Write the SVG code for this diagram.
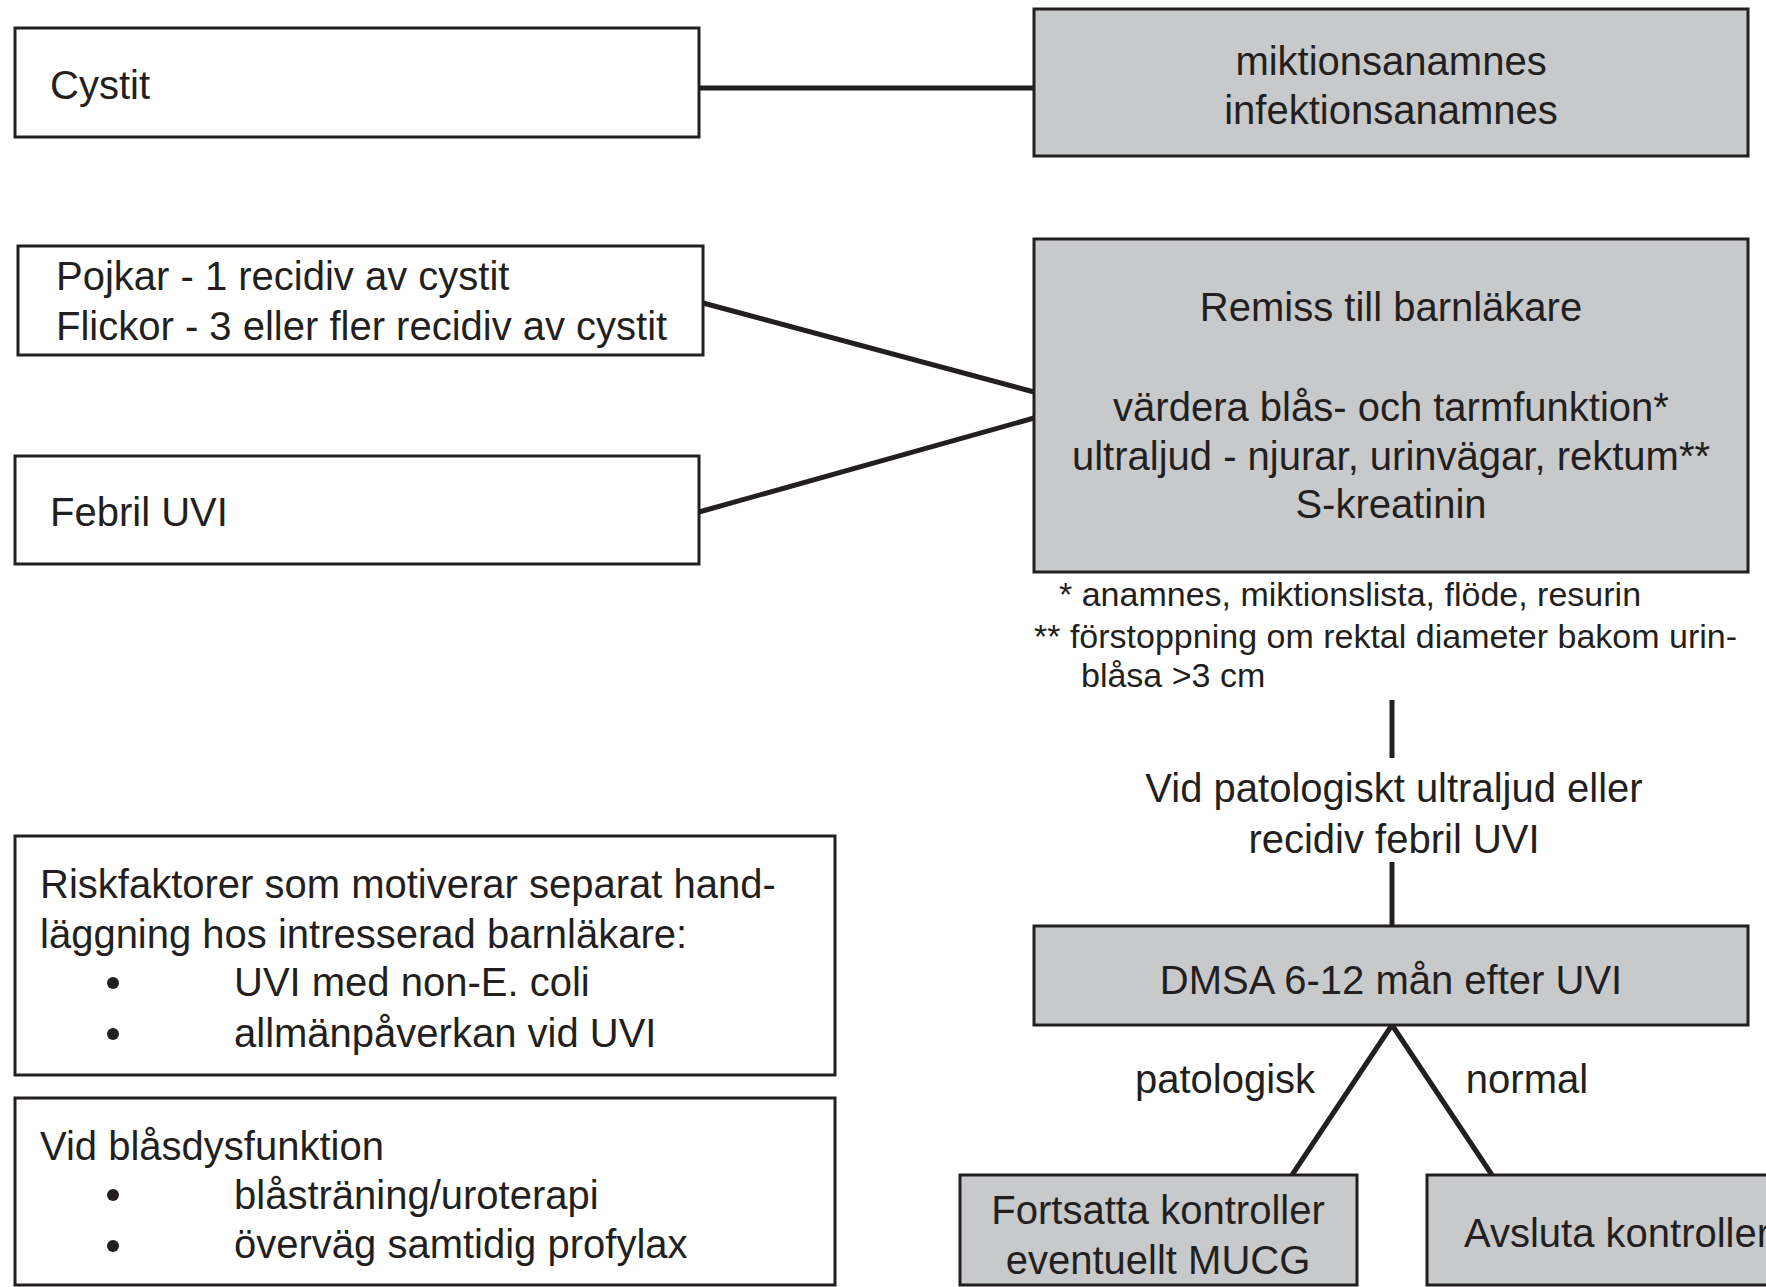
<svg xmlns="http://www.w3.org/2000/svg" width="1766" height="1287" viewBox="0 0 1766 1287">
<style>
text{font-family:"Liberation Sans",Arial,sans-serif;font-size:40px;fill:#231f20}
.fn{font-size:34px}
.c{text-anchor:middle}
.wbox{fill:#ffffff;stroke:#231f20;stroke-width:3}
.gbox{fill:#c8c9cb;stroke:#231f20;stroke-width:3}
.ln{stroke:#231f20;stroke-width:5;fill:none}
.bul{fill:#231f20}
</style>
<rect width="1766" height="1287" fill="#ffffff"/>
<g id="connectors">
<line class="ln" x1="699" y1="88" x2="1034" y2="88"/>
<line class="ln" x1="703" y1="303" x2="1034" y2="392"/>
<line class="ln" x1="699" y1="512" x2="1034" y2="418"/>
<line class="ln" x1="1392" y1="700" x2="1392" y2="758"/>
<line class="ln" x1="1392" y1="862" x2="1392" y2="926"/>
<line class="ln" x1="1392" y1="1025" x2="1292" y2="1175"/>
<line class="ln" x1="1392" y1="1025" x2="1492" y2="1175"/>
</g>
<g id="cystit">
<rect class="wbox" x="15" y="28" width="684" height="109"/>
<text x="50" y="99">Cystit</text>
</g>
<g id="anamnes">
<rect class="gbox" x="1034" y="9" width="714" height="147"/>
<text class="c" x="1391" y="75">miktionsanamnes</text>
<text class="c" x="1391" y="124">infektionsanamnes</text>
</g>
<g id="recidiv">
<rect class="wbox" x="18" y="246" width="685" height="109"/>
<text x="56" y="290">Pojkar - 1 recidiv av cystit</text>
<text x="56" y="340">Flickor - 3 eller fler recidiv av cystit</text>
</g>
<g id="febril">
<rect class="wbox" x="15" y="456" width="684" height="108"/>
<text x="50" y="526">Febril UVI</text>
</g>
<g id="remiss">
<rect class="gbox" x="1034" y="239" width="714" height="333"/>
<text class="c" x="1391" y="321">Remiss till barnläkare</text>
<text class="c" x="1391" y="421">värdera blås- och tarmfunktion*</text>
<text class="c" x="1391" y="470">ultraljud - njurar, urinvägar, rektum**</text>
<text class="c" x="1391" y="518">S-kreatinin</text>
</g>
<g id="footnotes">
<text class="fn" x="1059" y="606">* anamnes, miktionslista, flöde, resurin</text>
<text class="fn" x="1034" y="648">** förstoppning om rektal diameter bakom urin-</text>
<text class="fn" x="1081" y="687">blåsa &gt;3 cm</text>
</g>
<g id="condition">
<text class="c" x="1394" y="802">Vid patologiskt ultraljud eller</text>
<text class="c" x="1394" y="853">recidiv febril UVI</text>
</g>
<g id="dmsa">
<rect class="gbox" x="1034" y="926" width="714" height="99"/>
<text class="c" x="1391" y="994">DMSA 6-12 mån efter UVI</text>
</g>
<g id="labels">
<text class="c" x="1225" y="1093">patologisk</text>
<text class="c" x="1527" y="1093">normal</text>
</g>
<g id="fortsatta">
<rect class="gbox" x="960" y="1175" width="397" height="110"/>
<text class="c" x="1158" y="1224">Fortsatta kontroller</text>
<text class="c" x="1158" y="1274">eventuellt MUCG</text>
</g>
<g id="avsluta">
<rect class="gbox" x="1427" y="1175" width="360" height="110"/>
<text x="1464" y="1247">Avsluta kontroller</text>
</g>
<g id="riskfaktorer">
<rect class="wbox" x="15" y="836" width="820" height="239"/>
<text x="40" y="898">Riskfaktorer som motiverar separat hand-</text>
<text x="40" y="948">läggning hos intresserad barnläkare:</text>
<circle class="bul" cx="113" cy="983" r="6"/>
<text x="234" y="996">UVI med non-E. coli</text>
<circle class="bul" cx="113" cy="1034" r="6"/>
<text x="234" y="1047">allmänpåverkan vid UVI</text>
</g>
<g id="blasdysfunktion">
<rect class="wbox" x="15" y="1098" width="820" height="187"/>
<text x="40" y="1160">Vid blåsdysfunktion</text>
<circle class="bul" cx="113" cy="1195" r="6"/>
<text x="234" y="1209">blåsträning/uroterapi</text>
<circle class="bul" cx="113" cy="1246" r="6"/>
<text x="234" y="1258">överväg samtidig profylax</text>
</g>
</svg>
